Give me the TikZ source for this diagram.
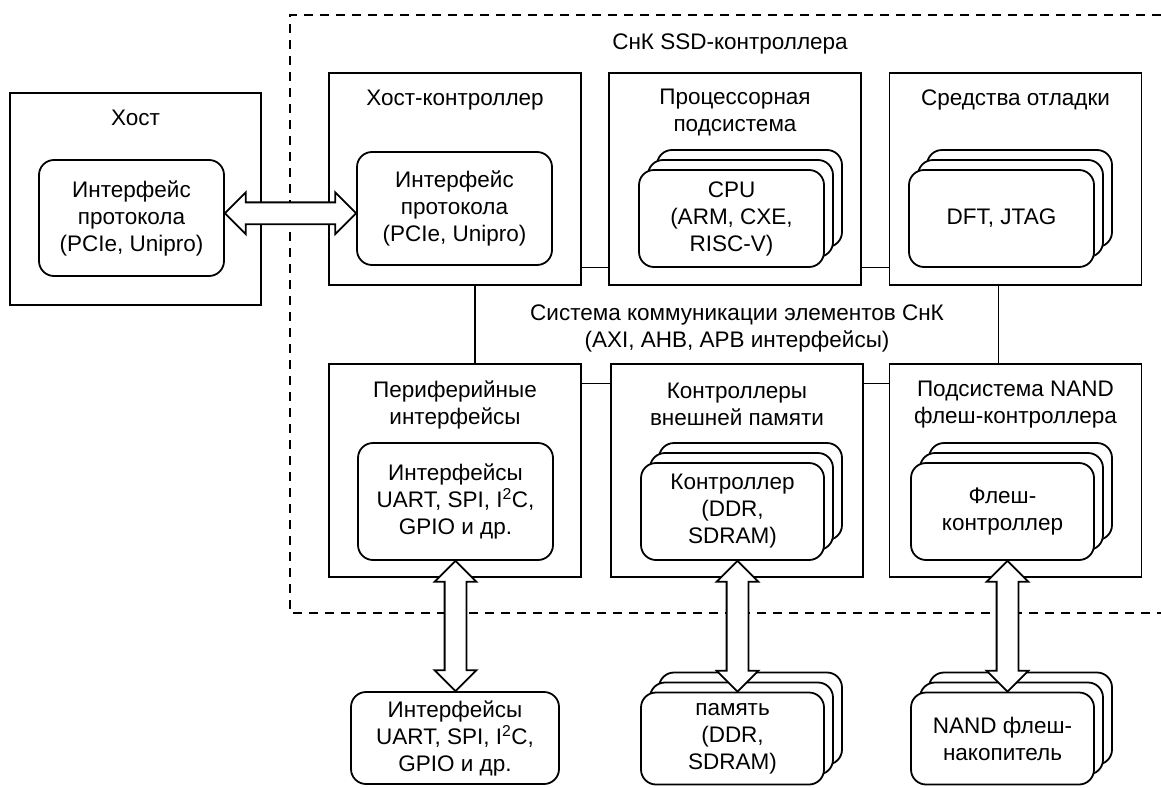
\documentclass[tikz,border=0pt]{standalone}
\usepackage{fontspec}
\setmainfont{Liberation Sans}
\usetikzlibrary{calc,shapes.arrows,shadows}
\tikzset{
    blk/.style={draw, line width=1.4pt, minimum width=252pt, minimum height=212pt},
    rbox/.style={draw, fill=white, rounded corners=15pt, line width=1.8pt, inner sep=0pt},
    stk/.style={rbox, double copy shadow={shadow xshift=9pt, shadow yshift=10pt, draw=black, fill=white, line width=1.8pt}},
    bus/.style={line width=1.4pt},
    dashbox/.style={line width=2.4pt, dash pattern=on 9pt off 7pt},
    dblarrow/.style={double arrow, draw, fill=white, line width=1.8pt, inner xsep=0pt, inner ysep=10pt,
        double arrow head extend=10pt, double arrow tip angle=90}
}

\begin{document}
\begin{tikzpicture}[x=1pt, y=-1pt, align=center, font=\fontsize{22.5}{27}\selectfont]
    \useasboundingbox (0,0) rectangle (1161,787);

    % SoC border
    \draw[dashbox] (1161,15) -- (290,15) -- (290,613) -- (1161,613);
    \node (soc) at (730,44) {СнК SSD-контроллера};

    % host
    \node[blk, minimum width=251pt] (host) at (135.5,199) {};
    \node (hostT) at (135.5,118) {Хост};
    \node[rbox, minimum width=185pt, minimum height=116pt] (hostif) at (131.5,218) {Интерфейс\\протокола\\(PCIe, Unipro)};

    % top row
    \node[blk] (hc) at (455,179) {};
    \node (hcT) at (455,100) {Хост-контроллер};
    \node[rbox, minimum width=195pt, minimum height=113pt] (hcif) at (454.5,208.5) {Интерфейс\\протокола\\(PCIe, Unipro)};

    \node[blk] (proc) at (735,179) {};
    \node (procT) at (735,112.5) {Процессорная\\подсистема};
    \node[stk, minimum width=185pt, minimum height=97pt] (cpu) at (731.5,218.5) {CPU\\(ARM, CXE,\\RISC-V)};

    \node[blk] (dbg) at (1015.5,179) {};
    \node (dbgT) at (1015.5,100) {Средства отладки};
    \node[stk, minimum width=185pt, minimum height=97pt] (jtag) at (1001.5,218.5) {DFT, JTAG};

    % bus
    \node (bustxt) at (737,328) {Система коммуникации элементов СнК\\(AXI, AHB, APB интерфейсы)};

    % bottom row
    \node[blk, minimum height=213pt] (per) at (455,470.5) {};
    \node (perT) at (455,404.5) {Периферийные\\интерфейсы};
    \node[rbox, minimum width=195pt, minimum height=117pt] (perif) at (455.5,501.5) {Интерфейсы\\UART, SPI, I\textsuperscript{2}C,\\GPIO и др.};

    \node[blk, minimum height=213pt] (ext) at (737,470.5) {};
    \node (extT) at (737,404.5) {Контроллеры\\внешней памяти};
    \node[stk, minimum width=183pt, minimum height=97pt] (memc) at (732.5,511.5) {Контроллер\\(DDR,\\SDRAM)};

    \node[blk, minimum height=213pt] (nand) at (1015.5,470.5) {};
    \node (nandT) at (1015.5,404.5) {Подсистема NAND\\флеш-контроллера};
    \node[stk, minimum width=183pt, minimum height=97pt] (flc) at (1002.5,511.5) {Флеш-\\контроллер};

    % outside parts
    \node[rbox, minimum width=208pt, minimum height=92pt] (perx) at (455,738) {Интерфейсы\\UART, SPI, I\textsuperscript{2}C,\\GPIO и др.};
    \node[stk, minimum width=183pt, minimum height=92pt] (mem) at (732.5,738.5) {память\\(DDR,\\SDRAM)};
    \node[stk, minimum width=183pt, minimum height=92pt] (flash) at (1002.5,738.5) {NAND флеш-\\накопитель};

    % bus lines
    \draw[bus] ([yshift=18pt]hc.south east) -- ([yshift=18pt]proc.south west);
    \draw[bus] ([yshift=18pt]proc.south east) -- ([yshift=18pt]dbg.south west);
    \draw[bus] ([yshift=-20pt]per.north east) -- ([yshift=-20pt]ext.north west);
    \draw[bus] ([yshift=-20pt]ext.north east) -- ([yshift=-20pt]nand.north west);
    \draw[bus] ([xshift=20pt]hc.south) -- ([xshift=20pt]per.north);
    \draw[bus] ([xshift=-17pt]dbg.south) -- ([xshift=-17pt]nand.north);

    % wide arrows
    \path let \p1=(hostif.east), \p2=(hcif.west) in
        node[dblarrow, minimum height={\x2-\x1}] (a1) at ($(\p1)!0.5!(\p2)$) {};
    \path let \p1=(perif.south), \p2=(perif.south |- perx.north) in
        node[dblarrow, rotate=90, minimum height={\y1-\y2}] (a2) at ($(\p1)!0.5!(\p2)$) {};
    \path let \p1=([xshift=5pt]memc.south), \p2=([xshift=5pt]memc.south |- mem.north) in
        node[dblarrow, rotate=90, minimum height={\y1-\y2}] (a3) at ($(\p1)!0.5!(\p2)$) {};
    \path let \p1=([xshift=5pt]flc.south), \p2=([xshift=5pt]flc.south |- flash.north) in
        node[dblarrow, rotate=90, minimum height={\y1-\y2}] (a4) at ($(\p1)!0.5!(\p2)$) {};
\end{tikzpicture}
\end{document}
